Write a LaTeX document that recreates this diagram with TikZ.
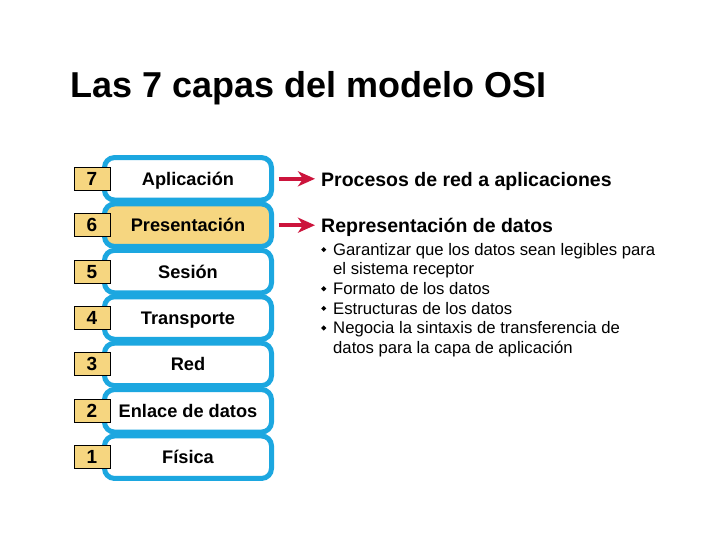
\documentclass[tikz,border=0pt]{standalone}
\usepackage{fontspec}
\setmainfont{Liberation Sans}
\usetikzlibrary{arrows.meta}

\definecolor{osiblue}{RGB}{28,167,224}
\definecolor{osiyellow}{RGB}{246,214,128}
\definecolor{osired}{RGB}{204,20,60}

% small diamond bullet
\newcommand{\bul}{\makebox[12pt][l]{\raisebox{3.2pt}{\rotatebox{45}{\rule{3.6pt}{3.6pt}}}}}
\newcommand{\ind}{\hspace*{12pt}}

\begin{document}
\begin{tikzpicture}[
  x=1pt, y=-1pt,
  title/.style={anchor=base west, inner sep=0pt, font=\fontsize{36}{40}\selectfont\bfseries},
  layer/.style={rectangle, draw=osiblue, fill=white, line width=5pt, rounded corners=10pt,
    minimum width=167pt, minimum height=42.5pt, inner sep=0pt, text height=13pt, text depth=0pt,
    font=\fontsize{18.2}{21}\selectfont\bfseries},
  pres/.style={layer, fill=osiyellow},
  num/.style={rectangle, draw=black, line width=0.9pt, fill=osiyellow, minimum width=36pt,
    minimum height=23pt, inner sep=0pt, font=\fontsize{19}{21}\selectfont\bfseries},
  head/.style={anchor=base west, inner sep=1pt, font=\fontsize{19.5}{22}\selectfont\bfseries},
  info/.style={anchor=north west, inner sep=0pt, align=left, font=\fontsize{16.7}{19.6}\selectfont},
  arrow/.style={-{Stealth[length=17pt, width=15pt, inset=5pt]}, osired, line width=3.5pt,
    shorten <=4.5pt, shorten >=5pt},
]
\useasboundingbox (0,0) rectangle (720,540);

% ══ Column positions ══
\def\xn{92}
\def\xl{188}
\def\xr{320}

% ══ Title ══
\node[title] (title) at (70, 98) {Las 7 capas del modelo OSI};

% ══ Layers (top to bottom) ══
\node[layer] (l7) at (\xl, 178.8) {Aplicación};
\node[pres]  (l6) at (\xl, 225.2) {Presentación};
\node[layer] (l5) at (\xl, 271.6) {Sesión};
\node[layer] (l4) at (\xl, 318.0) {Transporte};
\node[layer] (l3) at (\xl, 364.4) {Red};
\node[layer] (l2) at (\xl, 410.8) {Enlace de datos};
\node[layer] (l1) at (\xl, 457.2) {Física};

% layer numbers
\node[num] (n7) at (\xn, 178.8) {7};
\node[num] (n6) at (\xn, 225.2) {6};
\node[num] (n5) at (\xn, 271.6) {5};
\node[num] (n4) at (\xn, 318.0) {4};
\node[num] (n3) at (\xn, 364.4) {3};
\node[num] (n2) at (\xn, 410.8) {2};
\node[num] (n1) at (\xn, 457.2) {1};

% ══ Descriptions ══
\node[head] (proc) at (\xr, 187) {Procesos de red a aplicaciones};
\node[head] (repr) at (\xr, 233) {Representación de datos};

\node[info] (info) at (321, 243) {%
  \bul Garantizar que los datos sean legibles para\\
  \ind el sistema receptor\\
  \bul Formato de los datos\\
  \bul Estructuras de los datos\\
  \bul Negocia la sintaxis de transferencia de\\
  \ind datos para la capa de aplicación};

\draw[arrow] (l7.east) -- (l7.east -| proc.west);
\draw[arrow] (l6.east) -- (l6.east -| repr.west);

\end{tikzpicture}
\end{document}
